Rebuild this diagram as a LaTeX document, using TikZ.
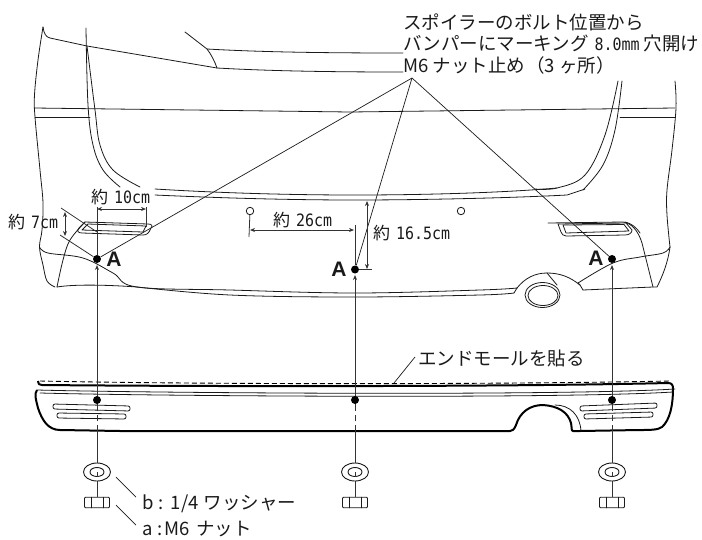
\documentclass[tikz,border=0pt]{standalone}
\usepackage{fontspec}
\usetikzlibrary{arrows.meta,shapes.geometric}
\newfontfamily\jpf{Noto Sans CJK JP}
\newfontfamily\latf[FakeStretch=0.88]{DejaVu Sans Mono}
\definecolor{ink}{HTML}{1a1a1a}
\definecolor{dimc}{HTML}{333333}
\newcommand{\jpt}[1]{{\fontsize{18.5}{19}\selectfont\jpf #1}}
\newcommand{\jps}[1]{{\fontsize{17}{19}\selectfont\jpf #1}}
\newcommand{\latt}[1]{{\fontsize{17}{19}\selectfont\latf #1}}
\tikzset{
 body/.style={draw=ink,line width=0.8pt,line join=round,line cap=round},
 thin line/.style={draw=ink,line width=0.7pt},
 bold line/.style={draw=black,line width=2pt,line join=round},
 dimline/.style={draw=dimc,line width=0.8pt},
 dimarrow/.style={dimline,{Stealth[length=5pt,width=4pt]}-{Stealth[length=5pt,width=4pt]}},
 axis/.style={draw=dimc,line width=0.9pt},
 uparrow/.style={axis,-{Stealth[length=5pt,width=4pt]}},
 dot/.style={circle,fill=black,inner sep=0pt,minimum size=8pt},
 hole/.style={circle,draw=ink,line width=0.8pt,fill=white,inner sep=0pt,minimum size=7.5pt},
 labl/.style={anchor=west,inner sep=0pt,text=ink},
 markA/.style={inner sep=0pt,font=\fontsize{21}{21}\selectfont\bfseries\fontspec{Liberation Sans},text=ink},
 washer/.style={ellipse,draw=ink,line width=0.9pt,fill=white,inner sep=0pt},
 nutbox/.style={draw=ink,line width=0.9pt,fill=white,rounded corners=1pt,minimum width=25pt,minimum height=10.5pt,inner sep=0pt},
}
\begin{document}
\begin{tikzpicture}[x=1pt,y=-1pt]
\useasboundingbox (0,0) rectangle (702,539);
% car body
\draw[body] plot[smooth,tension=.6] coordinates {(43,27) (38,60) (34.5,95) (35,117) (40,170) (43,203) (42,230) (39.5,247) (43,265) (47,281) (55,287)};
\draw[body] (43,27) .. controls (44,34) and (46,37) .. (50,38) -- (87,46) -- (217,68);
\draw[body] (185,32) -- (207,49) .. controls (211,54) and (215,62) .. (217,68);
\draw[body] (207,49) .. controls (260,52) and (320,53) .. (403,53);
\draw[body] (217,68) .. controls (270,71) and (330,72) .. (403,72);
\draw[body] (34.5,108) -- (350,112) -- (675,108);
\draw[body] (35,117) -- (90,117);
\draw[body] (620,117) -- (675,117);
\draw[body] plot[smooth,tension=.6] coordinates {(86,28) (88,105) (93,145) (103,170) (120,187)};
\draw[body] plot[smooth,tension=.6] coordinates {(87,46) (95,110) (100,145) (113,170) (140,187)};
\draw[body] plot[smooth,tension=.6] coordinates {(535,189) (557,188) (585,175) (605,135) (618,81)};
\draw[body] plot[smooth,tension=.6] coordinates {(583,190) (603,165) (615,130) (622,81)};
\draw[body] plot[smooth,tension=.6] coordinates {(675,81) (676,108) (672,150) (667,190) (667,215) (670,247)};
\draw[body] plot[smooth,tension=.6] coordinates {(670,247) (663,253) (640,257) (613,263) (578,283)};
\draw[body] (155,189) .. controls (220,193) and (290,195) .. (355,195) .. controls (420,195) and (500,193) .. (557,188);
\draw[body] (155,195) .. controls (220,198) and (290,200) .. (355,200) .. controls (420,200) and (510,198) .. (567,195) -- (585,189);
\draw[body] plot[smooth,tension=.6] coordinates {(39.5,247) (48,253) (83,258) (113,273) (137,287) (230,290) (355,293) (480,290) (517,288)};
\draw[body] plot[smooth,tension=.6] coordinates {(137,287) (230,295) (355,297) (480,295) (514,293)};
\draw[body] (514,293) -- (517,288);
\draw[body] (57,287) .. controls (75,284) and (110,285) .. (137,287);
% left lamp
\draw[body] plot[smooth,tension=.6] coordinates {(57,287) (63,260) (70,240) (85,222)};
\draw[body] (85,222) -- (148,224) .. controls (152,224) and (153,226) .. (151,228) .. controls (149,233) and (147,235) .. (143,235) -- (82,233) .. controls (77,233) and (77,230) .. (79,228) -- (85,222);
\draw[body] (88,224) -- (146,226) -- (143,232) -- (82,230) -- cycle;
% right lamp
\draw[body] (548,223) -- (623,222) .. controls (631,223) and (638,230) .. (642,243) -- (653,287);
\draw[body] (583,290) -- (653,287) -- (657,287) .. controls (663,275) and (668,262) .. (670,247);
\draw[body] (625,222) .. controls (631,223) and (637,228) .. (640,233);
\draw[body] (558,224) -- (626,223) -- (632,230) .. controls (632,233) and (629,235) .. (625,235) -- (566,236) .. controls (563,236) and (562,234) .. (561,232) -- cycle;
\draw[body] (563,225) -- (624,224.5) -- (629,231) -- (566,233) -- cycle;
% exhaust
\draw[body] (517,288) .. controls (525,278) and (535,273) .. (547,273) .. controls (560,273) and (570,277) .. (580,285) -- (583,290);
\draw[body] (578,283) -- (580,285);
\draw[body] (547,273) -- (557,285);
\draw[body] (542.5,295) ellipse [x radius=17.5,y radius=12.5];
\draw[body] (543,295.5) ellipse [x radius=15,y radius=10];
% rear bumper
\draw[bold line] (38,381) .. controls (38,384) and (39,385) .. (42,385) .. controls (200,386.5) and (500,387) .. (668,383) .. controls (672,383) and (673,385) .. (673,389);
\draw[bold line] (673,389) .. controls (673,405) and (670,420) .. (662,427) .. controls (658,430) and (650,430) .. (640,430) -- (580,431) -- (573,431) .. controls (571,431) and (572,427) .. (571,423) .. controls (568,412) and (558,406) .. (543,405) .. controls (530,405) and (520,412) .. (516,425) .. controls (514,430) and (512,431) .. (510,431) -- (120,431) -- (60,430) .. controls (48,430) and (42,420) .. (38,408) .. controls (36,400) and (34,394) .. (37,390);
\draw[body] (581,431) .. controls (580,415) and (570,405) .. (555,405);
\draw[body] (37,390) .. controls (150,393) and (560,396) .. (675,389);
\draw[body] (40,393) .. controls (150,396) and (560,399) .. (673,392);
\draw[draw=black,line width=0.9pt,dash pattern=on 5pt off 3pt] (40,381) .. controls (200,384.5) and (500,384.5) .. (670,381);
% slots
\foreach \a/\b/\c/\d in {53/404/130/406, 57/413/126/414}{
 \draw[body,rounded corners=2pt] (\a,\b) -- (\c,\d) -- (\c,\d+5) -- (\a,\b+5) -- cycle;
}
\foreach \a/\b/\c/\d in {580/406/657/403, 584/414/653/412}{
 \draw[body,rounded corners=2pt] (\a,\b) -- (\c,\d) -- (\c,\d+5) -- (\a,\b+5) -- cycle;
}
% nodes: bolts
\node[dot] (dotL) at (97,259) {};
\node[dot] (dotM) at (355,269.5) {};
\node[dot] (dotR) at (612,259) {};
\node[markA] (aL) at (114,259) {A};
\node[markA] (aM) at (339,269) {A};
\node[markA] (aR) at (596,258) {A};
\node[hole] (holeL) at (250,211) {};
\node[hole] (holeR) at (461,211) {};
\coordinate (apex) at (412,78);
% washers & nuts
\foreach \n/\x in {L/97,M/355,R/612}{
 \coordinate (tip\n) at (\x,\ifnum\x=355 275\else 265\fi);
 \coordinate (in\n) at (\x,408);
 \coordinate (out\n) at (\x,431);
 \node[nutbox] (nut\n) at (\x,502.5) {};
 \draw[axis] (nut\n.north) -- (\x,472);
 \node[washer,minimum width=27pt,minimum height=18pt] (wash\n) at (\x,472) {};
 \node[washer,minimum width=14pt,minimum height=9pt] (hole\n2) at (\x,472) {};
 \draw[axis] (wash\n.north) -- (out\n);
 \draw[axis] (hole\n2.center) -- (hole\n2.south);
 \draw[axis,dash pattern=on 6pt off 4pt] (out\n) -- (in\n);
 \draw[uparrow] (in\n) -- (tip\n);
 \node[dot] (bolt\n) at (\x,400) {};
 \draw[body] (\x-6,497.2) -- (\x-6,507.8) (\x+6,497.2) -- (\x+6,507.8);
}
\draw[axis] (dotL) -- (97,207);
\node[labl] (t1) at (403,22) {\jpt{スポイラーのボルト位置から}};
\node[labl] (t2) at (403,43) {\jpt{バンパーにマーキング}\hspace{6pt}\latt{8.0mm}\hspace{4pt}\jpt{穴開け}};
\node[labl] (t3) at (403,65.5) {\jpt{M6 ナット止め}\hspace{1pt}\jpt{（3 ヶ所）}};
\draw[thin line] (apex) -- (dotL);
\draw[thin line] (apex) -- (dotM);
\draw[thin line] (apex) -- (dotR);
% dimensions
\node[labl] (d10) at (91,197) {\jps{約}\hspace{6pt}\latt{10cm}};
\node[labl] (d7) at (8,222) {\jps{約}\hspace{6pt}\latt{7cm}};
\node[labl] (d26) at (273,220) {\jps{約}\hspace{6pt}\latt{26cm}};
\node[labl] (d165) at (373,233) {\jps{約}\hspace{6pt}\latt{16.5cm}};
\draw[dimarrow] (97,209) -- (146,209);
\draw[dimline] (146,207) -- (146,227);
\draw[dimarrow] (65,212) -- (65,236);
\draw[dimline] (61,208) -- (97,232);
\draw[dimline] (60,235) -- (dotL);
\draw[dimarrow] (250,230) -- (354,230);
\draw[dimline] (holeL) -- (249,237);
\draw[axis] (dotM) -- (355,225);
\draw[dimarrow] (367,201) -- (367,269);
\draw[dimline] (dotM) -- (372,269.5);
% notes
\node[labl] (end) at (418,358) {\jpt{エンドモールを貼る}};
\draw[thin line] (end.west) ++(-3,-1) -- (394,383);
\node[labl] (bt) at (142,504) {\jpt{b\hspace{5pt}:\hspace{7pt}1/4\hspace{5pt}ワッシャー}};
\node[labl] (at) at (142,529) {\jpt{a\hspace{5pt}:\hspace{2pt}M6\hspace{6pt}ナット}};
\draw[thin line] (116,477) -- ([shift={(-6,-7)}]bt.west);
\draw[thin line] (116,505) -- ([shift={(-6,-4)}]at.west);
\end{tikzpicture}
\end{document}
